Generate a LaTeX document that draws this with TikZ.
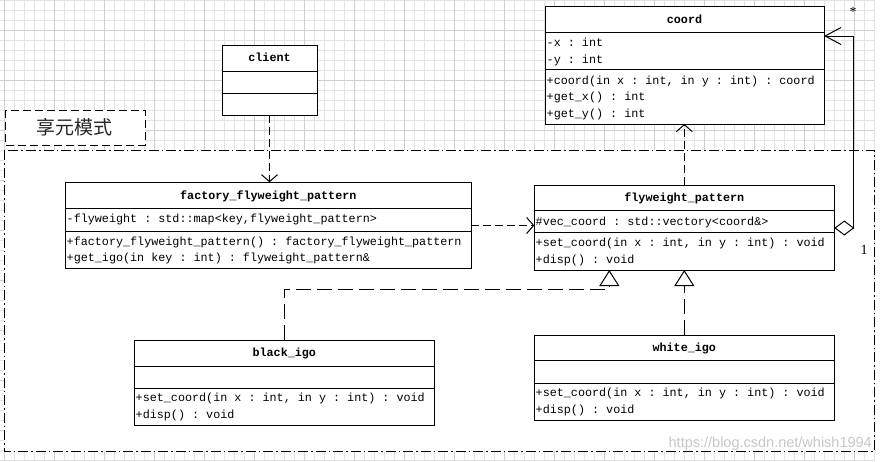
\documentclass[tikz,border=0pt]{standalone}
\usepackage{fontspec}
\setmainfont{Liberation Serif}
\setmonofont{Liberation Mono}
\newfontfamily\cjk{Noto Sans CJK SC}
\newfontfamily\wmfont{Liberation Sans}
\usetikzlibrary{arrows.meta}
\begin{document}
\begin{tikzpicture}[x=1pt,y=-1pt,
  gridl/.style={line width=0.8pt, draw=black!11},
  gridd/.style={line width=0.8pt, draw=black!19},
  box/.style={draw, fill=white, line width=1pt, inner sep=0pt, outer sep=0pt, anchor=north west},
  sep/.style={line width=1pt},
  txt/.style={anchor=base west, inner sep=0pt, font=\ttfamily\fontsize{11.75}{14}\selectfont},
  ttl/.style={anchor=base, inner sep=0pt, font=\ttfamily\bfseries\fontsize{11.75}{14}\selectfont},
  dep/.style={line width=1pt, dash pattern=on 8pt off 4pt, -{Straight Barb[length=7pt,width=16pt]}},
  real/.style={line width=1pt, dash pattern=on 15pt off 6pt, -{Triangle[length=16pt,width=20pt,fill=white]}},
  agg/.style={line width=1pt, {Diamond[length=20pt,width=15pt,fill=white]}-{Straight Barb[length=16pt,width=17pt]}},
  frame/.style={line width=1pt, dash pattern=on 10pt off 3pt on 1.5pt off 3pt},
  tab/.style={line width=1pt, dash pattern=on 8pt off 4pt},
  mult/.style={inner sep=0pt, font=\fontsize{14}{16}\selectfont}
]
\useasboundingbox (0,0) rectangle (885,461);
\fill[white] (0,0) rectangle (885,461);
% grid
\foreach \x in {4,14,...,874} \draw[gridl] (\x,0) -- (\x,461);
\foreach \y in {0,10,...,460} \draw[gridl] (0,\y) -- (874,\y);
\foreach \x in {4,54,...,854} \draw[gridd] (\x,0) -- (\x,461);
\foreach \y in {30,80,...,430} \draw[gridd] (0,\y) -- (874,\y);
% package frame
\filldraw[frame, fill=white] (4,150) rectangle (874,451);
\filldraw[tab, fill=white] (5,110) rectangle (145,145);
\node[font=\cjk\fontsize{19}{22}\selectfont, text=black!85, inner sep=0pt] (pkg) at (74,127) {享元模式};
% watermark
\node[anchor=base east, inner sep=0pt, font=\wmfont\fontsize{14.5}{16}\selectfont, text=black!22] (wm) at (872,447) {https://blog.csdn.net/whish1994};

% coord
\node[box, minimum width=279pt, minimum height=118pt] (coord) at (545,6) {};
\draw[sep] (coord.west |- 0,32.7) -- (coord.east |- 0,32.7);
\draw[sep] (coord.west |- 0,69.7) -- (coord.east |- 0,69.7);
\node[ttl] (coordT) at (684.5,23) {coord};
\node[txt] (coordA1) at (546.5,46) {-x : int};
\node[txt] (coordA2) at (546.5,63) {-y : int};
\node[txt] (coordM1) at (546.5,84) {+coord(in x : int, in y : int) : coord};
\node[txt] (coordM2) at (546.5,100.7) {+get\_x() : int};
\node[txt] (coordM3) at (546.5,117.3) {+get\_y() : int};

% client
\node[box, minimum width=95pt, minimum height=70pt] (client) at (222,45.3) {};
\draw[sep] (client.west |- 0,71.7) -- (client.east |- 0,71.7);
\draw[sep] (client.west |- 0,93.3) -- (client.east |- 0,93.3);
\node[ttl] (clientT) at (269.5,61.7) {client};

% factory
\node[box, minimum width=406pt, minimum height=86.4pt] (factory) at (65.3,182.3) {};
\draw[sep] (factory.west |- 0,208.3) -- (factory.east |- 0,208.3);
\draw[sep] (factory.west |- 0,231) -- (factory.east |- 0,231);
\node[ttl] (factoryT) at (268.3,199) {factory\_flyweight\_pattern};
\node[txt] (factoryA1) at (66.5,222) {-flyweight : std::map<key,flyweight\_pattern>};
\node[txt] (factoryM1) at (66.5,245) {+factory\_flyweight\_pattern() : factory\_flyweight\_pattern};
\node[txt] (factoryM2) at (66.5,261.7) {+get\_igo(in key : int) : flyweight\_pattern\&};

% flyweight
\node[box, minimum width=300pt, minimum height=84.7pt] (fly) at (534.3,185.3) {};
\draw[sep] (fly.west |- 0,210.3) -- (fly.east |- 0,210.3);
\draw[sep] (fly.west |- 0,232.3) -- (fly.east |- 0,232.3);
\node[ttl] (flyT) at (684.3,201.7) {flyweight\_pattern};
\node[txt] (flyA1) at (535.5,225) {\#vec\_coord : std::vectory<coord\&>};
\node[txt] (flyM1) at (535.5,246.3) {+set\_coord(in x : int, in y : int) : void};
\node[txt] (flyM2) at (535.5,263.3) {+disp() : void};

% white_igo
\node[box, minimum width=300pt, minimum height=84.7pt] (white) at (534.3,335.3) {};
\draw[sep] (white.west |- 0,360.7) -- (white.east |- 0,360.7);
\draw[sep] (white.west |- 0,383.3) -- (white.east |- 0,383.3);
\node[ttl] (whiteT) at (684.3,351.7) {white\_igo};
\node[txt] (whiteM1) at (535.5,396.3) {+set\_coord(in x : int, in y : int) : void};
\node[txt] (whiteM2) at (535.5,413.3) {+disp() : void};

% black_igo
\node[box, minimum width=300pt, minimum height=85pt] (black) at (134.3,340.3) {};
\draw[sep] (black.west |- 0,366.7) -- (black.east |- 0,366.7);
\draw[sep] (black.west |- 0,388) -- (black.east |- 0,388);
\node[ttl] (blackT) at (284.3,356.7) {black\_igo};
\node[txt] (blackM1) at (135.5,401.7) {+set\_coord(in x : int, in y : int) : void};
\node[txt] (blackM2) at (135.5,418.7) {+disp() : void};

% connectors
\draw[dep] (client.south) -- (client.south |- factory.north);
\draw[dep] (factory.east) -- (factory.east -| fly.west);
\draw[dep] (fly.north) -- (fly.north |- coord.south);
\draw[real] (white.north) -- (white.north |- fly.south);
\coordinate (bk) at (609.3,289);
\draw[real] (black.north) |- (bk) -- (bk |- fly.south);
\coordinate (ag1) at (853.5,228);
\coordinate (ag2) at (853.5,36);
\draw[agg] (fly.east |- ag1) -- (ag1) -- (ag2) -- (coord.east |- ag2);
\node[mult] (star) at (853,12) {*};
\node[mult] (one) at (864,250) {1};
\end{tikzpicture}
\end{document}
